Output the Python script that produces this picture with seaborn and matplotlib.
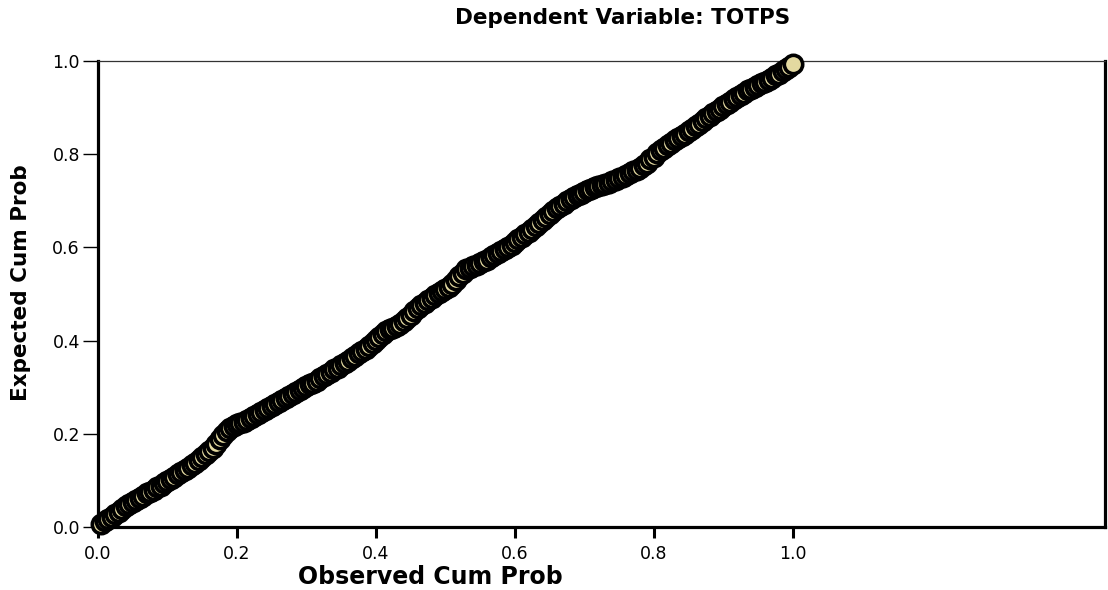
import matplotlib
matplotlib.use("Agg")
import matplotlib.pyplot as plt
import seaborn as sns
import pandas as pd

# Observed cumulative probability (x) and expected cumulative probability (y), read along the plotted band
observed = [0.005, 0.010, 0.015, 0.020, 0.025, 0.030, 0.035, 0.040, 0.045, 0.050,
            0.055, 0.060, 0.065, 0.070, 0.075, 0.080, 0.085, 0.090, 0.095, 0.100,
            0.105, 0.110, 0.115, 0.120, 0.125, 0.130, 0.135, 0.140, 0.145, 0.150,
            0.155, 0.160, 0.165, 0.170, 0.175, 0.180, 0.185, 0.190, 0.195, 0.200,
            0.205, 0.210, 0.215, 0.220, 0.225, 0.230, 0.235, 0.240, 0.245, 0.250,
            0.255, 0.260, 0.265, 0.270, 0.275, 0.280, 0.285, 0.290, 0.295, 0.300,
            0.305, 0.310, 0.315, 0.320, 0.325, 0.330, 0.335, 0.340, 0.345, 0.350,
            0.355, 0.360, 0.365, 0.370, 0.375, 0.380, 0.385, 0.390, 0.395, 0.400,
            0.405, 0.410, 0.415, 0.420, 0.425, 0.430, 0.435, 0.440, 0.445, 0.450,
            0.455, 0.460, 0.465, 0.470, 0.475, 0.480, 0.485, 0.490, 0.495, 0.500,
            0.505, 0.510, 0.515, 0.520, 0.525, 0.530, 0.535, 0.540, 0.545, 0.550,
            0.555, 0.560, 0.565, 0.570, 0.575, 0.580, 0.585, 0.590, 0.595, 0.600,
            0.605, 0.610, 0.615, 0.620, 0.625, 0.630, 0.635, 0.640, 0.645, 0.650,
            0.655, 0.660, 0.665, 0.670, 0.675, 0.680, 0.685, 0.690, 0.695, 0.700,
            0.705, 0.710, 0.715, 0.720, 0.725, 0.730, 0.735, 0.740, 0.745, 0.750,
            0.755, 0.760, 0.765, 0.770, 0.775, 0.780, 0.785, 0.790, 0.795, 0.800,
            0.805, 0.810, 0.815, 0.820, 0.825, 0.830, 0.835, 0.840, 0.845, 0.850,
            0.855, 0.860, 0.865, 0.870, 0.875, 0.880, 0.885, 0.890, 0.895, 0.900,
            0.905, 0.910, 0.915, 0.920, 0.925, 0.930, 0.935, 0.940, 0.945, 0.950,
            0.955, 0.960, 0.965, 0.970, 0.975, 0.980, 0.985, 0.990, 0.995, 1.000]
expected = [0.006, 0.013, 0.018, 0.022, 0.027, 0.033, 0.038, 0.044, 0.049, 0.053,
            0.058, 0.063, 0.067, 0.072, 0.076, 0.080, 0.085, 0.089, 0.094, 0.099,
            0.103, 0.108, 0.113, 0.118, 0.123, 0.127, 0.132, 0.137, 0.144, 0.150,
            0.157, 0.163, 0.170, 0.178, 0.188, 0.198, 0.206, 0.212, 0.216, 0.220,
            0.223, 0.226, 0.229, 0.234, 0.238, 0.242, 0.247, 0.251, 0.256, 0.260,
            0.264, 0.269, 0.273, 0.277, 0.282, 0.286, 0.290, 0.295, 0.299, 0.302,
            0.306, 0.310, 0.314, 0.319, 0.323, 0.328, 0.333, 0.338, 0.342, 0.347,
            0.352, 0.357, 0.362, 0.367, 0.373, 0.378, 0.383, 0.389, 0.395, 0.401,
            0.408, 0.414, 0.420, 0.424, 0.428, 0.432, 0.436, 0.442, 0.449, 0.456,
            0.463, 0.470, 0.476, 0.481, 0.487, 0.492, 0.498, 0.502, 0.506, 0.511,
            0.515, 0.521, 0.530, 0.538, 0.546, 0.553, 0.556, 0.560, 0.563, 0.567,
            0.571, 0.574, 0.579, 0.583, 0.587, 0.592, 0.596, 0.601, 0.606, 0.612,
            0.617, 0.622, 0.628, 0.634, 0.640, 0.646, 0.653, 0.659, 0.665, 0.672,
            0.678, 0.684, 0.689, 0.694, 0.699, 0.704, 0.708, 0.712, 0.715, 0.719,
            0.723, 0.726, 0.729, 0.731, 0.734, 0.736, 0.739, 0.742, 0.745, 0.748,
            0.751, 0.755, 0.759, 0.763, 0.767, 0.771, 0.776, 0.782, 0.789, 0.795,
            0.802, 0.808, 0.813, 0.819, 0.824, 0.830, 0.835, 0.840, 0.844, 0.849,
            0.854, 0.860, 0.865, 0.871, 0.877, 0.882, 0.888, 0.893, 0.898, 0.903,
            0.908, 0.913, 0.918, 0.923, 0.927, 0.932, 0.937, 0.940, 0.944, 0.948,
            0.952, 0.956, 0.960, 0.964, 0.969, 0.973, 0.978, 0.983, 0.988, 0.993]

tick_values = [0.0, 0.2, 0.4, 0.6, 0.8, 1.0]
tick_labels = ["0.0", "0.2", "0.4", "0.6", "0.8", "1.0"]

title_text = "Dependent Variable: TOTPS"
x_label = "Observed Cum Prob"
y_label = "Expected Cum Prob"

sns.set_style("white")
plt.rcParams["font.family"] = ["DejaVu Sans"]
plt.rcParams["text.color"] = "black"
plt.rcParams["xtick.color"] = "black"
plt.rcParams["ytick.color"] = "black"

df = pd.DataFrame({"observed": observed, "expected": expected})

fig = plt.figure(figsize=(11.08, 5.90), dpi=100)
ax = fig.add_axes([98 / 1108, 1 - 527 / 590, (1105 - 98) / 1108, (527 - 61) / 590])

sns.scatterplot(data=df, x="observed", y="expected", ax=ax, s=175,
                color="#e3d9a0", edgecolor="black", linewidth=2.6, legend=False,
                clip_on=False, zorder=3)

ax.set_xlim(0, 1.449)
ax.set_ylim(0, 1.0)
ax.set_xticks(tick_values)
ax.set_xticklabels(tick_labels)
ax.set_yticks(tick_values)
ax.set_yticklabels(tick_labels)
ax.tick_params(axis="x", direction="out", length=8, width=2.2, colors="black",
               labelsize=12.5, pad=5, bottom=True)
ax.tick_params(axis="y", direction="out", length=11, width=1.0, colors="black",
               labelsize=12.5, pad=2, left=True)

for side in ["left", "bottom", "right"]:
    ax.spines[side].set_linewidth(2.3)
    ax.spines[side].set_color("black")
ax.spines["top"].set_linewidth(0.9)
ax.spines["top"].set_color("#333333")

ax.set_xlabel("")
ax.set_ylabel("")

fig.text(623 / 1108, 1 - 18 / 590, title_text, ha="center", va="center",
         fontsize=15.5, fontweight="bold", color="black")
fig.text(430 / 1108, 1 - 577 / 590, x_label, ha="center", va="center",
         fontsize=17, fontweight="bold", color="black")
fig.text(21 / 1108, 1 - 283 / 590, y_label, ha="center", va="center",
         rotation=90, fontsize=15.5, fontweight="bold", color="black")

fig.savefig("out.png", dpi=100, facecolor="white")
